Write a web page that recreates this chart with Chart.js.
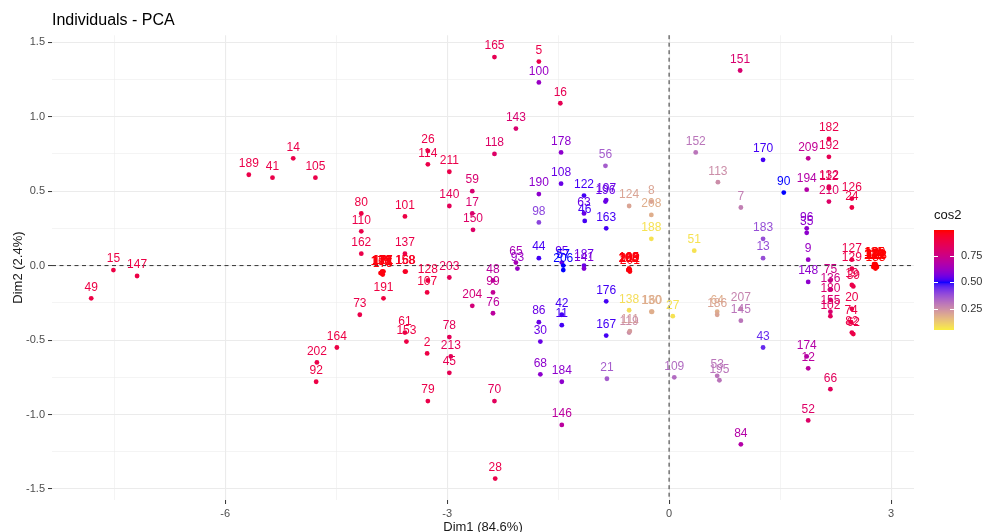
<!DOCTYPE html>
<html>
<head>
<meta charset="utf-8">
<script src="https://cdn.jsdelivr.net/npm/chart.js@4"></script>
<style>
  html, body { margin: 0; padding: 0; background: #fff; }
</style>
</head>
<body>
<canvas id="chart" width="985" height="532"></canvas>
<script>
// individuals: name, Dim1, Dim2 and cos2
const labels = [
  '49','15','147','189','41','14','105','202','92','164',
  '80','110','162','73','171','172','177','173','191','101',
  '137','158','168','61','153','26','114','128','107','2',
  '79','211','140','203','78','213','45','59','17','150',
  '204','118','165','48','99','76','70','28','143','65',
  '93','5','100','190','98','44','86','30','68','16',
  '178','108','95','57','206','42','11','184','146','122',
  '63','46','187','141','56','196','197','163','176','167',
  '21','124','198','200','212','138','119','111','8','208',
  '188','130','160','27','51','152','109','64','186','53',
  '195','113','151','7','207','145','84','170','183','13',
  '43','90','209','194','96','35','9','148','174','12',
  '52','182','192','132','112','210','75','136','180','155',
  '102','66','126','24','127','129','39','19','20','74',
  '62','82','115','116','117','120','121','123','125','131',
  '179','175','166','181','199','201','205','185','133','134',
  '135','139'
];
const dim1 = [
  -7.81,-7.51,-7.19,-5.68,-5.36,-5.08,-4.78,-4.76,-4.77,-4.49,
  -4.16,-4.16,-4.16,-4.18,-3.89,-3.88,-3.87,-3.90,-3.86,-3.57,
  -3.57,-3.57,-3.56,-3.57,-3.55,-3.26,-3.26,-3.26,-3.27,-3.27,
  -3.26,-2.97,-2.97,-2.97,-2.97,-2.95,-2.97,-2.66,-2.66,-2.65,
  -2.66,-2.36,-2.36,-2.38,-2.38,-2.38,-2.36,-2.35,-2.07,-2.07,
  -2.05,-1.76,-1.76,-1.76,-1.76,-1.76,-1.76,-1.74,-1.74,-1.47,
  -1.46,-1.46,-1.45,-1.43,-1.43,-1.45,-1.45,-1.45,-1.45,-1.15,
  -1.15,-1.14,-1.15,-1.15,-0.86,-0.86,-0.85,-0.85,-0.85,-0.85,
  -0.84,-0.54,-0.55,-0.54,-0.53,-0.54,-0.54,-0.53,-0.24,-0.24,
  -0.24,-0.24,-0.23,0.05,0.34,0.36,0.07,0.65,0.65,0.65,
  0.68,0.66,0.96,0.97,0.97,0.97,0.97,1.27,1.27,1.27,
  1.27,1.55,1.88,1.86,1.86,1.86,1.88,1.88,1.86,1.88,
  1.88,2.16,2.16,2.16,2.16,2.16,2.18,2.18,2.18,2.18,
  2.18,2.18,2.47,2.47,2.47,2.47,2.49,2.47,2.47,2.46,
  2.49,2.47,2.76,2.77,2.78,2.79,2.80,2.81,2.78,2.77,
  -3.88,-3.87,-3.89,-3.86,-0.54,-0.53,-0.55,-0.54,2.79,2.78,
  2.77,2.80
];
const dim2 = [
  -0.22,-0.03,-0.07,0.61,0.59,0.72,0.59,-0.65,-0.78,-0.55,
  0.35,0.23,0.08,-0.33,-0.05,-0.05,-0.04,-0.05,-0.22,0.33,
  0.08,-0.04,-0.04,-0.45,-0.51,0.77,0.68,-0.10,-0.18,-0.59,
  -0.91,0.63,0.40,-0.08,-0.48,-0.61,-0.72,0.50,0.35,0.24,
  -0.27,0.75,1.40,-0.10,-0.18,-0.32,-0.91,-1.43,0.92,0.02,
  -0.02,1.37,1.23,0.48,0.29,0.05,-0.38,-0.51,-0.73,1.09,
  0.76,0.55,0.02,0.00,-0.03,-0.33,-0.40,-0.78,-1.07,0.47,
  0.35,0.30,0.00,-0.02,0.67,0.43,0.44,0.25,-0.24,-0.47,
  -0.76,0.40,-0.03,-0.03,-0.03,-0.30,-0.45,-0.44,0.43,0.34,
  0.18,-0.31,-0.31,-0.34,0.10,0.76,-0.75,-0.31,-0.33,-0.74,
  -0.77,0.56,1.31,0.39,-0.29,-0.37,-1.20,0.71,0.18,0.05,
  -0.55,0.49,0.72,0.51,0.25,0.22,0.04,-0.11,-0.61,-0.69,
  -1.04,0.85,0.73,0.53,0.52,0.43,-0.10,-0.16,-0.23,-0.31,
  -0.34,-0.83,0.45,0.39,0.04,-0.02,-0.14,-0.13,-0.29,-0.38,
  -0.46,-0.45,-0.01,0.00,-0.01,0.01,0.00,-0.01,0.01,0.00,
  -0.04,-0.06,-0.05,-0.04,-0.02,-0.04,-0.03,-0.02,-0.02,0.00,
  0.01,-0.01
];
const cos2 = [
  0.89,0.89,0.89,0.88,0.88,0.88,0.88,0.88,0.89,0.89,
  0.89,0.88,0.88,0.88,0.98,0.98,0.98,0.98,0.90,0.89,
  0.88,0.95,0.95,0.89,0.89,0.88,0.88,0.89,0.90,0.89,
  0.88,0.88,0.85,0.85,0.85,0.85,0.86,0.80,0.80,0.82,
  0.78,0.82,0.86,0.70,0.72,0.70,0.84,0.88,0.80,0.65,
  0.62,0.88,0.62,0.60,0.40,0.52,0.55,0.55,0.60,0.86,
  0.60,0.55,0.55,0.50,0.50,0.52,0.52,0.60,0.70,0.52,
  0.55,0.52,0.55,0.58,0.35,0.55,0.55,0.52,0.52,0.52,
  0.35,0.20,0.98,0.98,0.98,0.08,0.25,0.22,0.20,0.18,
  0.07,0.18,0.18,0.07,0.07,0.30,0.32,0.18,0.20,0.30,
  0.30,0.25,0.80,0.28,0.27,0.30,0.68,0.52,0.38,0.38,
  0.45,0.50,0.72,0.68,0.60,0.60,0.62,0.60,0.68,0.70,
  0.82,0.88,0.86,0.86,0.86,0.82,0.75,0.75,0.80,0.80,
  0.84,0.84,0.88,0.89,0.88,0.88,0.88,0.88,0.88,0.89,
  0.89,0.88,0.99,0.99,0.99,0.99,0.99,0.99,0.99,0.99,
  0.98,0.98,0.98,0.98,0.98,0.98,0.98,0.98,0.99,0.99,
  0.99,0.99
];

const xTicks = [-6, -3, 0, 3];
const yTicks = [-1.5, -1, -0.5, 0, 0.5, 1, 1.5];
const legendTicks = [0.25, 0.5, 0.75];
const cosRange = [0.05, 0.99];

// yellow -> blue -> red, interpolated in Lab like ggplot's gradient2
function rgbToLab(rgb) {
  const [r, g, b] = rgb.map(c => { c /= 255; return c <= 0.04045 ? c / 12.92 : Math.pow((c + 0.055) / 1.055, 2.4); });
  const X = (r * 0.4124564 + g * 0.3575761 + b * 0.1804375) / 0.95047;
  const Y = r * 0.2126729 + g * 0.7151522 + b * 0.0721750;
  const Z = (r * 0.0193339 + g * 0.1191920 + b * 0.9503041) / 1.08883;
  const f = t => t > 0.008856 ? Math.cbrt(t) : 7.787 * t + 16 / 116;
  const fx = f(X), fy = f(Y), fz = f(Z);
  return [116 * fy - 16, 500 * (fx - fy), 200 * (fy - fz)];
}
function labToRgb(lab) {
  const [L, a, b] = lab;
  const fy = (L + 16) / 116, fx = fy + a / 500, fz = fy - b / 200;
  const inv = t => t * t * t > 0.008856 ? t * t * t : (t - 16 / 116) / 7.787;
  const X = inv(fx) * 0.95047, Y = inv(fy), Z = inv(fz) * 1.08883;
  const lin = [
    X * 3.2404542 - Y * 1.5371385 - Z * 0.4985314,
    -X * 0.9692660 + Y * 1.8760108 + Z * 0.0415560,
    X * 0.0556434 - Y * 0.2040259 + Z * 1.0572252
  ];
  return lin.map(c => {
    c = c <= 0.0031308 ? 12.92 * c : 1.055 * Math.pow(c, 1 / 2.4) - 0.055;
    return Math.round(Math.min(1, Math.max(0, c)) * 255);
  });
}
const LOW = rgbToLab([255, 255, 0]), MID = rgbToLab([0, 0, 255]), HIGH = rgbToLab([255, 0, 0]);

function cosColor(v) {
  const dev = Math.max(Math.abs(cosRange[0] - 0.5), Math.abs(cosRange[1] - 0.5));
  let t = (v - 0.5) / (2 * dev) + 0.5;
  t = Math.min(1, Math.max(0, t));
  const a = t < 0.5 ? LOW : MID, b = t < 0.5 ? MID : HIGH;
  const f = t < 0.5 ? t / 0.5 : (t - 0.5) / 0.5;
  const rgb = labToRgb(a.map((c, i) => c + (b[i] - c) * f));
  return 'rgb(' + rgb.join(',') + ')';
}

const near = (v, list) => list.some(t => Math.abs(t - v) < 1e-6);
const FONT = '"Liberation Sans", Arial, Helvetica, sans-serif';
Chart.defaults.font.family = FONT;

// dashed reference lines through the origin
const originLines = {
  id: 'originLines',
  beforeDatasetsDraw(chart) {
    const { ctx, chartArea: a, scales: { x, y } } = chart;
    const x0 = x.getPixelForValue(0), y0 = y.getPixelForValue(0);
    ctx.save();
    ctx.strokeStyle = '#333';
    ctx.lineWidth = 1;
    ctx.setLineDash([4, 3.5]);
    ctx.beginPath();
    ctx.moveTo(a.left, y0); ctx.lineTo(a.right, y0);
    ctx.moveTo(x0, a.top); ctx.lineTo(x0, a.bottom);
    ctx.stroke();
    ctx.restore();
  }
};

// text labels above each point, same colour as the point
const pointLabels = {
  id: 'pointLabels',
  afterDatasetsDraw(chart) {
    const ctx = chart.ctx;
    const meta = chart.getDatasetMeta(0);
    ctx.save();
    ctx.font = '12px ' + FONT;
    ctx.textAlign = 'center';
    ctx.textBaseline = 'middle';
    meta.data.forEach((pt, i) => {
      ctx.fillStyle = cosColor(cos2[i]);
      ctx.fillText(labels[i], pt.x, pt.y - 11);
    });
    ctx.restore();
  }
};

// continuous colour bar for cos2
const cosLegend = {
  id: 'cosLegend',
  afterDraw(chart) {
    const { ctx, chartArea: a } = chart;
    const bx = a.right + 20, bw = 20;
    const unit = 105;
    const y75 = 256;
    const yOf = v => y75 - (v - 0.75) * unit;
    const top = yOf(cosRange[1]), bottom = yOf(cosRange[0]);
    ctx.save();
    for (let py = Math.floor(top); py < bottom; py++) {
      const v = 0.75 - (py + 0.5 - y75) / unit;
      ctx.fillStyle = cosColor(v);
      ctx.fillRect(bx, py, bw, 1);
    }
    ctx.strokeStyle = '#fff';
    ctx.lineWidth = 1;
    legendTicks.forEach(v => {
      const py = Math.round(yOf(v)) + 0.5;
      ctx.beginPath();
      ctx.moveTo(bx, py); ctx.lineTo(bx + 4, py);
      ctx.moveTo(bx + bw - 4, py); ctx.lineTo(bx + bw, py);
      ctx.stroke();
    });
    ctx.fillStyle = '#333';
    ctx.font = '11px ' + FONT;
    ctx.textAlign = 'left';
    ctx.textBaseline = 'middle';
    legendTicks.forEach(v => ctx.fillText(v.toFixed(2), bx + bw + 7, yOf(v)));
    ctx.fillStyle = '#111';
    ctx.font = '13px ' + FONT;
    ctx.fillText('cos2', bx, top - 15);
    ctx.restore();
  }
};

new Chart(document.getElementById('chart'), {
  type: 'scatter',
  data: {
    datasets: [{
      label: 'Individuals',
      data: dim1.map((v, i) => ({ x: v, y: dim2[i] })),
      pointBackgroundColor: cos2.map(cosColor),
      pointBorderWidth: 0,
      pointRadius: 2.4
    }]
  },
  options: {
    responsive: false,
    animation: false,
    layout: { padding: { left: 0, right: 71, top: 0, bottom: 0 } },
    plugins: {
      legend: { display: false },
      tooltip: { enabled: false },
      title: {
        display: true,
        text: 'Individuals - PCA',
        align: 'start',
        fullSize: false,
        color: '#000',
        font: { size: 16, weight: 'normal' },
        padding: { top: 11, bottom: 5 }
      }
    },
    scales: {
      x: {
        type: 'linear',
        min: -8.34,
        max: 3.31,
        border: { display: false },
        grid: {
          color: '#EBEBEB',
          lineWidth: c => near(c.tick.value, xTicks) ? 1.1 : 0.55,
          tickColor: c => c.tick && near(c.tick.value, xTicks) ? '#333' : 'rgba(0,0,0,0)',
          tickLength: 4,
          tickWidth: 1
        },
        ticks: {
          stepSize: 1.5,
          includeBounds: false,
          autoSkip: false,
          maxRotation: 0,
          padding: 3,
          color: '#4D4D4D',
          font: { size: 11 },
          callback: v => near(v, xTicks) ? String(v) : ''
        },
        title: {
          display: true,
          text: 'Dim1 (84.6%)',
          color: '#1a1a1a',
          font: { size: 13, lineHeight: 0.7 },
          padding: { top: 0, bottom: 0 }
        },
        afterFit: s => { s.height = 32; }
      },
      y: {
        type: 'linear',
        min: -1.574,
        max: 1.547,
        border: { display: false },
        grid: {
          color: '#EBEBEB',
          lineWidth: c => near(c.tick.value, yTicks) ? 1.1 : 0.55,
          tickColor: c => c.tick && near(c.tick.value, yTicks) ? '#333' : 'rgba(0,0,0,0)',
          tickLength: 4,
          tickWidth: 1
        },
        ticks: {
          stepSize: 0.25,
          includeBounds: false,
          autoSkip: false,
          padding: 3,
          color: '#4D4D4D',
          font: { size: 11 },
          callback: v => near(v, yTicks) ? v.toFixed(1) : ''
        },
        title: {
          display: true,
          text: 'Dim2 (2.4%)',
          color: '#1a1a1a',
          font: { size: 13 },
          padding: { top: 11, bottom: 0 }
        },
        afterFit: s => { s.width = 52; }
      }
    }
  },
  plugins: [originLines, pointLabels, cosLegend]
});
</script>
</body>
</html>
